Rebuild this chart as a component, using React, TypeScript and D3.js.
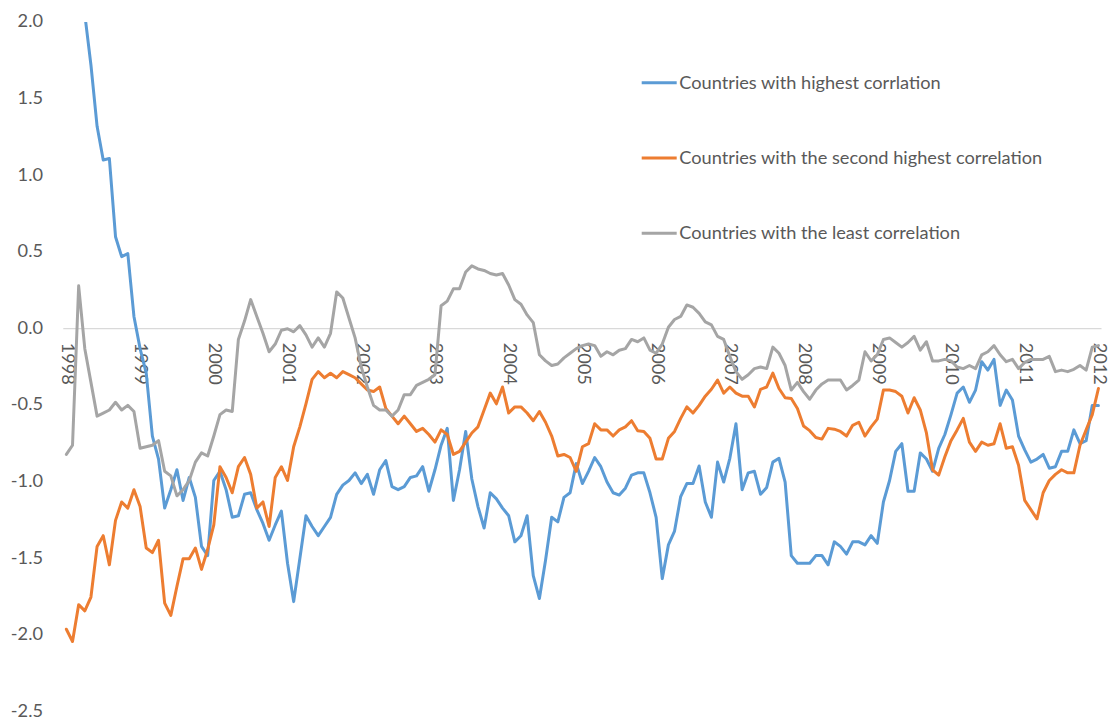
import * as d3 from "d3";

// year labels shown on the category axis (one per 12 monthly points)
const yearTicks = [
  "1998", "1999", "2000", "2001", "2002", "2003", "2004",
  "2005", "2006", "2007", "2008", "2009", "2010", "2011", "2012",
];

const yTicks = [2.0, 1.5, 1.0, 0.5, 0.0, -0.5, -1.0, -1.5, -2.0, -2.5];

const seriesNames = [
  "Countries with highest corrlation",
  "Countries with the second highest correlation",
  "Countries with the least correlation",
];

// monthly values, Jan 1998 .. Jan 2012 (one row per year)
const highest = [
  2.9, 2.6, 2.3, 2.05, 1.72, 1.32, 1.1, 1.11, 0.6, 0.47, 0.49, 0.08,
  -0.13, -0.29, -0.7, -0.85, -1.17, -1.05, -0.92, -1.12, -0.97, -1.1, -1.42, -1.48,
  -0.99, -0.93, -1.05, -1.23, -1.22, -1.08, -1.07, -1.18, -1.27, -1.38, -1.28, -1.19,
  -1.53, -1.78, -1.5, -1.22, -1.29, -1.35, -1.29, -1.23, -1.08, -1.02, -0.99, -0.94,
  -1.01, -0.95, -1.08, -0.92, -0.86, -1.03, -1.05, -1.03, -0.97, -0.96, -0.9, -1.06,
  -0.92, -0.76, -0.65, -1.12, -0.92, -0.67, -0.98, -1.16, -1.3, -1.07, -1.11, -1.17,
  -1.22, -1.39, -1.35, -1.22, -1.61, -1.76, -1.51, -1.23, -1.26, -1.1, -1.07, -0.88,
  -1.01, -0.93, -0.84, -0.9, -1.0, -1.07, -1.085, -1.04, -0.955, -0.94, -0.94, -1.07,
  -1.23, -1.63, -1.41, -1.32, -1.095, -1.01, -1.01, -0.895, -1.13, -1.23, -0.87, -1.0,
  -0.845, -0.62, -1.05, -0.94, -0.93, -1.08, -1.035, -0.87, -0.845, -1.0, -1.48, -1.53,
  -1.53, -1.53, -1.48, -1.48, -1.54, -1.39, -1.42, -1.47, -1.39, -1.39, -1.41, -1.35,
  -1.4, -1.13, -0.99, -0.8, -0.75, -1.06, -1.06, -0.81, -0.85, -0.93, -0.78, -0.69,
  -0.56, -0.42, -0.38, -0.48, -0.4, -0.215, -0.27, -0.2, -0.5, -0.4, -0.465, -0.7,
  -0.79, -0.87, -0.85, -0.82, -0.91, -0.9, -0.8, -0.8, -0.66, -0.75, -0.73, -0.5,
  -0.5,
];

const secondHighest = [
  -1.96, -2.04, -1.8, -1.84, -1.75, -1.42, -1.35, -1.54, -1.25, -1.13, -1.17, -1.05,
  -1.16, -1.43, -1.46, -1.38, -1.79, -1.87, -1.68, -1.5, -1.5, -1.43, -1.57, -1.44,
  -1.28, -0.9, -0.97, -1.07, -0.9, -0.84, -0.95, -1.17, -1.13, -1.29, -0.97, -0.9,
  -0.99, -0.77, -0.64, -0.49, -0.33, -0.28, -0.32, -0.29, -0.32, -0.28, -0.3, -0.32,
  -0.36, -0.4, -0.41, -0.38, -0.52, -0.57, -0.62, -0.57, -0.62, -0.67, -0.65, -0.69,
  -0.74, -0.66, -0.69, -0.82, -0.8, -0.74, -0.68, -0.64, -0.53, -0.42, -0.49, -0.38,
  -0.55, -0.51, -0.51, -0.55, -0.6, -0.54, -0.61, -0.7, -0.83, -0.82, -0.84, -0.93,
  -0.77, -0.75, -0.62, -0.66, -0.66, -0.7, -0.66, -0.64, -0.6, -0.665, -0.67, -0.715,
  -0.85, -0.85, -0.715, -0.67, -0.585, -0.51, -0.55, -0.5, -0.44, -0.395, -0.335, -0.42,
  -0.38, -0.42, -0.44, -0.44, -0.51, -0.395, -0.38, -0.29, -0.39, -0.45, -0.455, -0.52,
  -0.635, -0.665, -0.71, -0.72, -0.65, -0.655, -0.67, -0.7, -0.63, -0.61, -0.7, -0.64,
  -0.59, -0.4, -0.4, -0.41, -0.44, -0.55, -0.45, -0.53, -0.68, -0.92, -0.955, -0.835,
  -0.73, -0.66, -0.585, -0.74, -0.8, -0.74, -0.76, -0.75, -0.62, -0.78, -0.77, -0.89,
  -1.12, -1.18, -1.24, -1.07, -0.99, -0.95, -0.92, -0.94, -0.94, -0.76, -0.66, -0.56,
  -0.39,
];

const least = [
  -0.82, -0.76, 0.28, -0.13, -0.35, -0.57, -0.55, -0.53, -0.48, -0.53, -0.5, -0.54,
  -0.78, -0.77, -0.76, -0.73, -0.93, -0.96, -1.09, -1.05, -0.99, -0.87, -0.81, -0.83,
  -0.7, -0.56, -0.53, -0.54, -0.07, 0.05, 0.19, 0.08, -0.03, -0.15, -0.1, -0.01,
  0.0, -0.02, 0.02, -0.04, -0.12, -0.06, -0.12, -0.03, 0.24, 0.2, 0.07, -0.06,
  -0.25, -0.38, -0.5, -0.53, -0.53, -0.57, -0.53, -0.43, -0.43, -0.37, -0.35, -0.33,
  -0.3, 0.15, 0.18, 0.26, 0.26, 0.37, 0.41, 0.39, 0.38, 0.36, 0.35, 0.36,
  0.285, 0.19, 0.16, 0.09, 0.04, -0.17, -0.21, -0.24, -0.23, -0.19, -0.16, -0.13,
  -0.11, -0.1, -0.11, -0.18, -0.15, -0.17, -0.14, -0.13, -0.07, -0.085, -0.06, -0.14,
  -0.16, -0.1, 0.01, 0.06, 0.08, 0.155, 0.14, 0.1, 0.045, 0.025, -0.05, -0.07,
  -0.18, -0.28, -0.33, -0.3, -0.26, -0.25, -0.26, -0.12, -0.16, -0.24, -0.4, -0.35,
  -0.41, -0.46, -0.4, -0.36, -0.335, -0.335, -0.335, -0.4, -0.37, -0.335, -0.15, -0.21,
  -0.17, -0.07, -0.06, -0.09, -0.12, -0.09, -0.05, -0.14, -0.085, -0.21, -0.21, -0.2,
  -0.21, -0.25, -0.26, -0.24, -0.26, -0.17, -0.15, -0.11, -0.17, -0.215, -0.2, -0.26,
  -0.22, -0.2, -0.2, -0.2, -0.18, -0.28, -0.27, -0.28, -0.265, -0.24, -0.27, -0.12,
  -0.11,
];

const colors = ["#5B9BD5", "#ED7D31", "#A5A5A5"];

const W = 1109;
const H = 721;
const plot = { left: 63.3, right: 1101.5, top: 22.1, bottom: 712 };
const FONT = "Lato, 'Open Sans', sans-serif";
const TEXT = "#595959";
const FS = 18.2;

export default function App() {
  const series = [highest, secondHighest, least];

  const x = d3
    .scaleBand<number>()
    .domain(d3.range(highest.length))
    .range([plot.left, plot.right]);
  const xc = (i: number) => (x(i) ?? 0) + x.bandwidth() / 2;

  const y = d3.scaleLinear().domain([-2.5, 2.0]).range([plot.bottom, plot.top]);

  const line = d3
    .line<number>()
    .x((_, i) => xc(i))
    .y((d) => y(d));

  const legendY = d3.scaleLinear().domain([0, 2]).range([82.7, 233.3]);

  return (
    <svg
      width={W}
      height={H}
      style={{ position: "absolute", left: 0, top: 0, background: "#fff" }}
      fontFamily={FONT}
    >
      <defs>
        <clipPath id="plotClip">
          <rect x={plot.left} y={plot.top} width={plot.right - plot.left} height={plot.bottom - plot.top} />
        </clipPath>
      </defs>

      {/* y tick labels */}
      {yTicks.map((t) => (
        <text
          key={t}
          x={43}
          y={y(t)}
          dy={0.5}
          textAnchor="end"
          dominantBaseline="middle"
          fontSize={FS}
          fill={TEXT}
        >
          {t.toFixed(1)}
        </text>
      ))}

      {/* zero line acts as category axis */}
      <line x1={plot.left} x2={plot.right} y1={y(0)} y2={y(0)} stroke="#D9D9D9" strokeWidth={1.3} />

      {/* year labels, rotated */}
      {yearTicks.map((label, k) => (
        <text
          key={label}
          transform={`translate(${xc(k * 12)},${y(0) + 14}) rotate(90)`}
          textAnchor="start"
          dominantBaseline="middle"
          fontSize={FS}
          fill={TEXT}
        >
          {label}
        </text>
      ))}

      <g clipPath="url(#plotClip)">
        {series.map((s, k) => (
          <path
            key={k}
            d={line(s) ?? ""}
            fill="none"
            stroke={colors[k]}
            strokeWidth={3}
            strokeLinejoin="round"
            strokeLinecap="round"
          />
        ))}
      </g>

      {/* legend */}
      {seriesNames.map((name, k) => (
        <g key={name}>
          <line
            x1={641.7}
            x2={676.7}
            y1={legendY(k)}
            y2={legendY(k)}
            stroke={colors[k]}
            strokeWidth={3}
          />
          <text x={679.3} y={legendY(k)} dy={1.5} dominantBaseline="middle" fontSize={FS} fill={TEXT}>
            {name}
          </text>
        </g>
      ))}
    </svg>
  );
}
